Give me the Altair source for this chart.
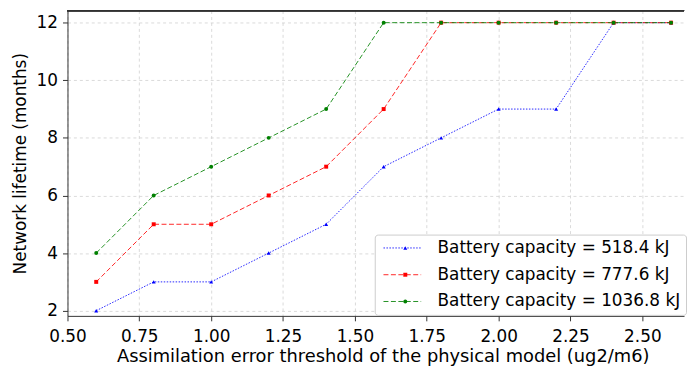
import altair as alt
import pandas as pd

x_vals = [0.6, 0.8, 1.0, 1.2, 1.4, 1.6, 1.8, 2.0, 2.2, 2.4, 2.6]
series_names = ["Battery capacity = 518.4 kJ", "Battery capacity = 777.6 kJ", "Battery capacity = 1036.8 kJ"]
marker_keys = ["m1", "m2", "m3"]
blue_vals = [2, 3, 3, 4, 5, 7, 8, 9, 9, 12, 12]
red_vals = [3, 5, 5, 6, 7, 9, 12, 12, 12, 12, 12]
green_vals = [4, 6, 7, 8, 9, 12, 12, 12, 12, 12, 12]
x_ticks = [0.5, 0.75, 1.0, 1.25, 1.5, 1.75, 2.0, 2.25, 2.5]
y_ticks = [2, 4, 6, 8, 10, 12]

colors = ["#0000ff", "#ff0000", "#008000"]
dashes = [[1.5, 1.5], [5, 2.5], [5, 2.5]]
shapes = ["triangle-up", "square", "circle"]

rows = []
for name, key, vals in zip(series_names, marker_keys, [blue_vals, red_vals, green_vals]):
    for xv, yv in zip(x_vals, vals):
        rows.append({"x": xv, "y": yv, "series": name, "marker": key})
df = pd.DataFrame(rows)

FONT = "DejaVu Sans"
xs = alt.Scale(domain=[0.5, 2.645], nice=False, zero=False)
ys = alt.Scale(domain=[1.82, 12.42], nice=False, zero=False)

x_enc = alt.X("x:Q", scale=xs, title="Assimilation error threshold of the physical model (ug2/m6)",
              axis=alt.Axis(values=x_ticks, format=".2f", grid=True, labelFlush=False,
                            titleX=318, titleAnchor="middle", titleFontSize=18))
y_enc = alt.Y("y:Q", scale=ys, title="Network lifetime (months)",
              axis=alt.Axis(values=y_ticks, format="d", grid=True, labelFlush=False))

LX, LY = 310, 226

lines = alt.Chart(df).mark_line(strokeWidth=1, opacity=0.85).encode(
    x=x_enc, y=y_enc,
    color=alt.Color("series:N", scale=alt.Scale(domain=series_names, range=colors), title=None,
                    legend=alt.Legend(orient="none", legendX=LX, legendY=LY,
                                      symbolType="M-3.8,0H3.8", symbolSize=100, symbolStrokeWidth=1,
                                      labelFontSize=17, labelFont=FONT, labelColor="black",
                                      rowPadding=9, padding=5, fillColor="white", strokeColor="#cccccc",
                                      cornerRadius=3, labelLimit=400, symbolOffset=14.3,
                                      labelOffset=27)),
    strokeDash=alt.StrokeDash("series:N", scale=alt.Scale(domain=series_names, range=dashes), title=None),
    order="x:Q",
)

points = alt.Chart(df).mark_point(filled=True, size=16, opacity=1).encode(
    x=x_enc, y=y_enc,
    fill=alt.Fill("marker:N", scale=alt.Scale(domain=marker_keys, range=colors), title=None,
                  legend=alt.Legend(orient="none", legendX=LX, legendY=LY, symbolSize=16,
                                    labelFontSize=17, labelFont=FONT, labelExpr="''",
                                    rowPadding=9, padding=5, symbolOffset=17.3,
                                    symbolStrokeWidth=0)),
    shape=alt.Shape("marker:N", scale=alt.Scale(domain=marker_keys, range=shapes), title=None),
)

top = alt.Chart(df).mark_rule(color="#333333", strokeWidth=1).encode(y=alt.datum(12.42))

chart = alt.layer(lines, points, top).properties(
    width=622, height=308, padding={"left": 3, "top": 0, "right": 0, "bottom": 0}
).configure_view(stroke=None).configure_axis(
    labelFont=FONT, titleFont=FONT, labelFontSize=17, titleFontSize=17,
    labelColor="black", titleColor="black", titleFontWeight="normal",
    domainColor="#333333", tickColor="#333333", tickSize=5, labelPadding=5,
    gridColor="#d0d0d0", gridDash=[3, 3], gridWidth=0.8,
).configure_axisY(titlePadding=7).configure_axisX(titlePadding=3, labelPadding=8)

chart.save("out.html", embed_options={"renderer": "svg", "actions": False})
